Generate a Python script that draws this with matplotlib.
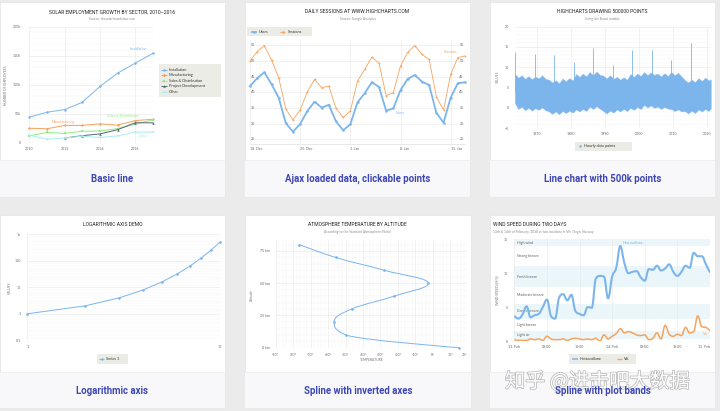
import matplotlib
matplotlib.use("Agg")
import matplotlib.pyplot as plt
import matplotlib.dates as mdates
import matplotlib.patheffects as pe
import matplotlib.transforms as mtrans
from matplotlib.patches import Rectangle, PathPatch
from matplotlib.path import Path
from matplotlib.ticker import FixedLocator, NullFormatter
from matplotlib import font_manager
import numpy as np

W, H = 720, 411
available = {f.name for f in font_manager.fontManager.ttflist}
if "Liberation Sans Narrow" in available:
    TITLE_FONT, TITLE_SIZE = "Liberation Sans Narrow", 4.2
else:
    TITLE_FONT, TITLE_SIZE = "Roboto", 3.6

plt.rcParams["font.family"] = ["Lato", "DejaVu Sans"]
plt.rcParams["font.size"] = 2.6

# ---------- data: basic line ----------
solar_years = [2010, 2011, 2012, 2013, 2014, 2015, 2016, 2017]
installation = [43934, 52503, 57177, 69658, 97031, 119931, 137133, 154175]
manufacturing = [24916, 24064, 29742, 29851, 32490, 30282, 38121, 40434]
sales_distribution = [11744, 17722, 16005, 19771, 20185, 24377, 32147, 39387]
project_development = [np.nan, np.nan, 7988, 12169, 15112, 22452, 34400, 34227]
other = [12908, 5948, 8105, 11248, 8989, 11816, 18274, 18111]

# ---------- data: daily sessions ----------
session_days = np.arange(np.datetime64("2017-12-18"), np.datetime64("2018-01-18"))
users = [42.0, 44.5, 46.4, 42.6, 38.3, 30.1, 27.4, 29.9, 34.0, 37.0, 35.1, 36.0, 30.7,
         27.9, 29.8, 36.8, 39.7, 43.2, 41.7, 34.1, 34.9, 40.7, 44.3, 45.5, 43.4, 42.3,
         33.5, 30.3, 38.3, 42.9, 43.2]
sessions = [50.0, 53.0, 54.9, 50.3, 44.7, 34.6, 31.2, 34.4, 40.2, 44.1, 41.5, 42.0, 34.9,
            32.0, 34.0, 43.6, 47.3, 51.2, 49.3, 38.9, 39.9, 48.4, 52.8, 54.9, 52.1, 50.5,
            38.6, 34.4, 45.7, 51.1, 51.6]

# ---------- data: 500k points (read envelope of the dense band + spikes) ----------
boost_years = list(np.arange(1963.5, 2021.0, 1.0)) + [2021.1]
boost_upper = [8.3, 7.4, 8.0, 7.1, 7.8, 7.0, 7.7, 7.2, 8.0, 7.1,
               6.9, 6.2, 6.8, 6.0, 7.2, 6.5, 7.3, 6.7, 8.3, 7.6,
               8.4, 7.7, 8.8, 8.0, 8.9, 8.1, 7.9, 7.2, 8.0, 7.1,
               7.6, 6.9, 7.5, 6.9, 8.3, 7.6, 8.4, 7.8, 8.8, 8.0,
               8.7, 8.1, 8.4, 7.7, 8.5, 7.8, 8.8, 8.0, 8.6, 7.7,
               6.8, 6.2, 6.9, 6.3, 7.3, 6.6, 7.4, 6.7, 7.0]
boost_lower = [1.2, -0.3, 0.3, -0.6, 0.0, -0.7, -0.1, -0.5, 0.1, -0.6,
               -0.9, -1.5, -0.9, -1.6, -0.8, -1.3, -0.7, -1.2, -0.4, -0.9,
               -0.3, -0.8, 0.3, -0.3, 0.4, -0.2, -0.8, -1.4, -0.7, -1.2,
               -0.4, -0.9, -0.3, -0.8, 0.0, -0.5, 0.2, -0.3, 0.7, 0.1,
               0.6, 0.0, 0.3, -0.3, 0.2, -0.2, -0.3, -0.8, -0.4, -0.9,
               -0.8, -1.4, -0.7, -1.3, -0.4, -0.9, -0.3, -0.8, -0.2]
spike_years = [1963.6, 1969.4, 1975.1, 1980.8, 1986.6, 1992.3, 1998.0, 2003.7, 2009.4, 2015.2]
spike_values = [13.7, 13.3, 12.9, 11.4, 14.8, 10.6, 14.3, 14.2, 11.9, 16.0]

# ---------- data: logarithmic axis ----------
log_x = [1, 2, 3, 4, 5, 6, 7, 8, 9, 10]
log_y = [1, 2, 4, 8, 16, 32, 64, 128, 256, 512]

# ---------- data: atmosphere ----------
altitude_km = [0, 10, 20, 30, 40, 50, 60, 70, 80]
temperature_c = [15, -50, -56.5, -46.5, -22.1, -2.5, -27.7, -55.7, -76.5]

# ---------- data: wind speed ----------
wind_times = np.datetime64("2018-02-13T00:00") + np.arange(49) * np.timedelta64(1, "h")
hestavollane = [3.7, 3.3, 3.9, 5.1, 3.5, 3.8, 4.0, 5.0, 6.1, 3.7, 3.3, 6.4, 6.9, 6.0, 6.8,
                4.4, 4.0, 3.8, 5.0, 4.9, 9.2, 9.6, 9.5, 6.3, 9.5, 10.8, 14.0, 11.5, 10.0,
                10.2, 10.3, 9.4, 8.9, 10.6, 10.5, 11.1, 10.4, 10.7, 11.3, 10.2, 9.6, 10.2,
                11.1, 10.8, 13.0, 12.5, 12.5, 11.3, 10.1]
vik = [0.2, 0.1, 0.1, 0.1, 0.3, 0.2, 0.3, 0.1, 0.7, 0.3, 0.2, 0.2, 0.3, 0.1, 0.3, 0.4, 0.3,
       0.2, 0.3, 0.2, 0.4, 0.0, 0.9, 0.3, 0.7, 1.1, 1.8, 1.2, 1.4, 1.2, 0.9, 0.8, 0.9, 0.2,
       0.4, 1.2, 0.3, 2.3, 1.0, 0.7, 1.0, 0.8, 2.0, 1.2, 1.4, 3.7, 2.1, 2.0, 1.5]
band_names = ["Light air", "Light breeze", "Gentle breeze", "Moderate breeze",
              "Fresh breeze", "Strong breeze", "High wind"]
band_edges = [0.3, 1.5, 3.3, 5.5, 8, 11, 14, 15]

captions = ["Basic line", "Ajax loaded data, clickable points", "Line chart with 500k points",
            "Logarithmic axis", "Spline with inverted axes", "Spline with plot bands"]

BLUE, ORANGE, GREEN, SLATE, CYAN = "#7cb5ec", "#f7a35c", "#90ee7e", "#56637a", "#aaeeee"
GRID, MINOR, LABEL = "#e6e6e6", "#f3f3f3", "#666666"


def spline_path(xs, ys, smoothing=1.5):
    # bezier control points the way Highcharts builds a spline
    n = len(xs)
    verts, codes = [(xs[0], ys[0])], [Path.MOVETO]
    prev_right = (xs[0], ys[0])
    d = smoothing + 1
    for i in range(1, n):
        x, y = xs[i], ys[i]
        if i < n - 1:
            lx, ly, nx, ny = xs[i - 1], ys[i - 1], xs[i + 1], ys[i + 1]
            lcx, lcy = (smoothing * x + lx) / d, (smoothing * y + ly) / d
            rcx, rcy = (smoothing * x + nx) / d, (smoothing * y + ny) / d
            if rcx != lcx:
                corr = (rcy - lcy) * (rcx - x) / (rcx - lcx) + y - rcy
                lcy += corr
                rcy += corr
            if lcy > ly and lcy > y:
                lcy = max(ly, y); rcy = 2 * y - lcy
            elif lcy < ly and lcy < y:
                lcy = min(ly, y); rcy = 2 * y - lcy
            if rcy > ny and rcy > y:
                rcy = max(ny, y); lcy = 2 * y - rcy
            elif rcy < ny and rcy < y:
                rcy = min(ny, y); lcy = 2 * y - rcy
            left, right = (lcx, lcy), (rcx, rcy)
        else:
            left = right = (x, y)
        verts += [prev_right, left, (x, y)]
        codes += [Path.CURVE4] * 3
        prev_right = right
    return np.array(verts), codes


fig = plt.figure(figsize=(W / 100, H / 100), dpi=100)
fig.patch.set_facecolor("#ebebeb")
bg = fig.add_axes([0, 0, 1, 1])
bg.set_xlim(0, W)
bg.set_ylim(H, 0)
bg.axis("off")
bg.set_zorder(-5)

cards = [(0, 2, 225, 197, 160), (245, 2, 470, 197, 160), (490, 2, 715, 197, 160),
         (0, 215, 225, 408, 372), (245, 215, 471, 408, 372), (490, 215, 715, 408, 372)]
for (x0, y0, x1, y1, yc), cap in zip(cards, captions):
    bg.add_patch(Rectangle((x0, y0), x1 - x0, y1 - y0, fc="white", ec="#e0e0e0", lw=0.4))
    bg.add_patch(Rectangle((x0, yc), x1 - x0, y1 - yc, fc="#f8f8fa", ec="none"))
    bg.plot([x0, x1], [yc, yc], color="#ececec", lw=0.5)
    bg.text((x0 + x1) / 2, (yc + y1) / 2 + 0.5, cap, ha="center", va="center",
            fontsize=6.9, fontweight="bold", color="#3e47b3", family=["Roboto", "DejaVu Sans"],
            zorder=6)

bg.text(505, 382, "知乎 @进击吧大数据", ha="left", va="center", fontsize=14.5, color="white",
        family=["Noto Sans CJK SC", "DejaVu Sans"], zorder=5,
        path_effects=[pe.withStroke(linewidth=1.0, foreground="#b5b5b5")])


def title(x, y, text, ha="center"):
    bg.text(x, y, text, ha=ha, va="center", fontsize=TITLE_SIZE, family=[TITLE_FONT, "DejaVu Sans"],
            color="#222222")


def subtitle(x, y, text, ha="center"):
    bg.text(x, y, text, ha=ha, va="center", fontsize=2.3, color="#8a8a8a")


def ytitle(x, y, text):
    bg.text(x, y, text, ha="center", va="center", rotation=90, fontsize=2.4, color="#777777")


def legend_box(x0, y0, x1, y1):
    bg.add_patch(Rectangle((x0, y0), x1 - x0, y1 - y0, fc="#ecece6", ec="none"))


def legend_item(x, y, color, label, marker=None, lw=0.7):
    bg.plot([x - 2.6, x + 2.6], [y, y], color=color, lw=lw, solid_capstyle="butt")
    if marker:
        bg.plot([x], [y], marker=marker, color=color, ms=1.8, mew=0)
    bg.text(x + 5, y, label, ha="left", va="center", fontsize=2.8, color="#333333")


def chart_axes(x0, y0, x1, y1):
    ax = fig.add_axes([x0 / W, 1 - y1 / H, (x1 - x0) / W, (y1 - y0) / H])
    ax.set_facecolor("none")
    for s in ax.spines.values():
        s.set_visible(False)
    ax.tick_params(which="both", length=0, labelsize=2.6, labelcolor=LABEL)
    ax.set_axisbelow(True)
    return ax


# ===== 1. basic line =====
title(112.5, 11.7, "SOLAR EMPLOYMENT GROWTH BY SECTOR, 2010–2016")
subtitle(112.5, 19.3, "Source: thesolarfoundation.com")
ytitle(6.3, 85, "NUMBER OF EMPLOYEES")
ax1 = chart_axes(29.3, 26.7, 152.9, 142.7)
ax1.set_xlim(2010, 2017)
ax1.set_ylim(0, 200000)
ax1.set_xticks([2010, 2012, 2014, 2016])
ax1.set_yticks([0, 50000, 100000, 150000, 200000], ["0", "50k", "100k", "150k", "200k"])
ax1.yaxis.set_minor_locator(FixedLocator(np.arange(0, 200001, 10000)))
ax1.grid(True, which="major", color=GRID, lw=0.4)
ax1.grid(True, which="minor", axis="y", color=MINOR, lw=0.3)
ax1.tick_params(axis="y", pad=6)
ax1.tick_params(axis="x", pad=3)
series1 = [("Installation", installation, BLUE, "o"), ("Manufacturing", manufacturing, ORANGE, "D"),
           ("Sales & Distribution", sales_distribution, GREEN, "s"),
           ("Project Development", project_development, SLATE, "^"), ("Other", other, CYAN, "v")]
for name, vals, col, mk in series1:
    ax1.plot(solar_years, vals, color=col, lw=0.7, marker=mk, ms=1.8 if mk != "D" else 1.5,
             mew=0, clip_on=False)
ax1.text(2016.15, 161500, "Installation", color=BLUE, fontsize=2.6, ha="center", va="center")
ax1.text(2011.9, 35700, "Manufacturing", color=ORANGE, fontsize=2.6, ha="center", va="center")
ax1.text(2015.3, 46000, "Sales & Distribution", color=GREEN, fontsize=2.6, ha="center", va="center")
ax1.text(2016.5, 11600, "Other", color=CYAN, fontsize=2.6, ha="center", va="center")
legend_box(159, 64, 221, 97)
for i, (name, vals, col, mk) in enumerate(series1):
    legend_item(164, 69.7 + i * 5.6, col, name, marker=mk)

# ===== 2. ajax data =====
title(357.5, 11.7, "DAILY SESSIONS AT WWW.HIGHCHARTS.COM")
subtitle(357.5, 19.3, "Source: Google Analytics")
legend_box(247.3, 27.3, 311.7, 36)
legend_item(254, 31.7, BLUE, "Users", marker="o", lw=1.2)
legend_item(282.5, 31.7, ORANGE, "Sessions", marker="o", lw=0.6)
ax2 = chart_axes(250, 40, 465, 144)
ax2.set_xlim(session_days[0], session_days[-1])
ax2.set_ylim(23.5, 56.7)
week_ticks = session_days[::7]
ax2.set_xticks(week_ticks, ["18. Dec", "25. Dec", "1. Jan", "8. Jan", "15. Jan"])
for lab in ax2.get_xticklabels():
    lab.set_ha("left")
ax2.tick_params(axis="x", pad=2)
ax2.set_yticks([25, 30, 35, 40, 45, 50, 55], [""] * 7)
ax2.grid(True, color=GRID, lw=0.4)
ax2.spines["bottom"].set_visible(True)
ax2.spines["bottom"].set_color("#d8d8d8")
ax2.spines["bottom"].set_linewidth(0.4)
yblend = mtrans.blended_transform_factory(ax2.transAxes, ax2.transData)
for v in [25, 30, 35, 40, 45, 50, 55]:
    ax2.text(0.006, v, str(v), transform=yblend, ha="left", va="center", fontsize=2.6, color=LABEL)
    ax2.text(0.994, v, str(v), transform=yblend, ha="right", va="center", fontsize=2.6, color=LABEL)
ax2.plot(session_days, sessions, color=ORANGE, lw=0.6, marker="o", ms=1.3, mew=0, clip_on=False)
ax2.plot(session_days, users, color=BLUE, lw=1.3, marker="o", ms=1.8, mew=0, clip_on=False)
ax2.text(session_days[0] + np.timedelta64(28, "D"), 53.0, "Sessions", color=ORANGE, fontsize=2.6,
         ha="center", va="center")
ax2.text(session_days[0] + np.timedelta64(21, "D"), 33.5, "Users", color=BLUE, fontsize=2.6,
         ha="center", va="center")

# ===== 3. 500k points =====
title(602.5, 11.7, "HIGHCHARTS DRAWING 500000 POINTS")
subtitle(602.5, 19.3, "Using the Boost module")
ytitle(498.3, 76.7, "VALUES")
ax3 = chart_axes(514.9, 26.7, 710.7, 128)
ax3.set_xlim(1963.5, 2021.1)
ax3.set_ylim(-5, 20)
ax3.set_xticks([1970, 1980, 1990, 2000, 2010, 2020])
ax3.set_yticks([-5, 0, 5, 10, 15, 20])
ax3.yaxis.set_minor_locator(FixedLocator(np.arange(-5, 21, 1)))
ax3.grid(True, which="major", color=GRID, lw=0.4)
ax3.grid(True, which="minor", axis="y", color=MINOR, lw=0.3)
ax3.tick_params(axis="y", pad=4.5)
ax3.tick_params(axis="x", pad=2.7)
ax3.fill_between(boost_years, boost_lower, boost_upper, color=BLUE, lw=0.3, ec=BLUE)
ax3.vlines(spike_years, 4.0, spike_values, color=BLUE, lw=0.6)
legend_box(575, 141.7, 631.7, 150.7)
bg.plot([580], [146.2], marker="o", color=BLUE, ms=1.8, mew=0)
bg.text(584.5, 146.2, "Hourly data points", ha="left", va="center", fontsize=2.8, color="#333333")

# ===== 4. logarithmic axis =====
title(112.5, 224.3, "LOGARITHMIC AXIS DEMO")
ytitle(10, 288, "VALUES")
ax4 = chart_axes(27.3, 234.3, 220, 340.3)
ax4.set_xscale("log")
ax4.set_yscale("log")
ax4.set_xlim(1, 10)
ax4.set_ylim(0.1, 1000)
ax4.set_xticks([1, 10], ["1", "10"])
ax4.set_yticks([0.1, 1, 10, 100, 1000], ["0.1", "1", "10", "100", "1k"])
ax4.xaxis.set_minor_locator(FixedLocator([]))
ax4.yaxis.set_minor_locator(FixedLocator(10 ** np.arange(-1, 3.01, 0.1)))
ax4.xaxis.set_minor_formatter(NullFormatter())
ax4.yaxis.set_minor_formatter(NullFormatter())
ax4.grid(True, which="major", color=GRID, lw=0.4)
ax4.grid(True, which="minor", axis="y", color=MINOR, lw=0.3)
ax4.tick_params(axis="y", pad=4.7)
ax4.tick_params(axis="x", pad=3.5)
ax4.plot(log_x, log_y, color=BLUE, lw=0.7, marker="o", ms=1.9, mew=0, clip_on=False)
legend_box(97, 354, 128.3, 363.7)
legend_item(101.5, 358.9, BLUE, "Series 1", marker="o")

# ===== 5. spline with inverted axes =====
title(357.7, 224.3, "ATMOSPHERE TEMPERATURE BY ALTITUDE")
subtitle(357.7, 232, "According to the Standard Atmosphere Model")
ytitle(252, 295, "Altitude")
bg.text(371.7, 360.3, "TEMPERATURE", ha="center", va="center", fontsize=2.4, color="#777777")
ax5 = chart_axes(275.7, 240, 467.7, 347.7)
ax5.set_xlim(-90, 20)
ax5.set_ylim(0, 83.5)
temp_ticks = list(range(-90, 21, 10))
ax5.set_xticks(temp_ticks, [f"{t}°" for t in temp_ticks])
ax5.get_xticklabels()[-1].set_ha("right")
ax5.set_yticks([0, 25, 50, 75], ["0 km", "25 km", "50 km", "75 km"])
ax5.xaxis.set_minor_locator(FixedLocator(np.arange(-90, 21, 2)))
ax5.yaxis.set_minor_locator(FixedLocator(np.arange(0, 84, 5)))
ax5.grid(True, which="major", color=GRID, lw=0.4)
ax5.grid(True, which="minor", color=MINOR, lw=0.3)
ax5.tick_params(axis="y", pad=4.1)
ax5.tick_params(axis="x", pad=3.6)
verts, codes = spline_path(altitude_km, temperature_c)
ax5.add_patch(PathPatch(Path(verts[:, ::-1], codes), fc="none", ec=BLUE, lw=0.7))
ax5.plot(temperature_c, altitude_km, ls="none", marker="o", color=BLUE, ms=1.9, mew=0, clip_on=False)

# ===== 6. spline with plot bands =====
title(493, 224.3, "WIND SPEED DURING TWO DAYS", ha="left")
subtitle(493, 232, "13th & 14th of February, 2018 at two locations in Vik i Sogn, Norway", ha="left")
ytitle(497, 290, "WIND SPEED (M/S)")
ax6 = chart_axes(514.3, 239.3, 710, 341)
t_num = mdates.date2num(wind_times)
ax6.set_xlim(t_num[0], t_num[-1])
ax6.set_ylim(0, 15)
ax6.set_xticks(t_num[::8], ["13. Feb", "08:00", "16:00", "14. Feb", "08:00", "16:00", "15. Feb"])
ax6.get_xticklabels()[-1].set_ha("right")
ax6.set_yticks([0, 5, 10, 15])
ax6.grid(True, axis="x", color=GRID, lw=0.4)
ax6.tick_params(axis="y", pad=4.3)
ax6.tick_params(axis="x", pad=3)
band_tf = mtrans.blended_transform_factory(ax6.transAxes, ax6.transData)
for i, name in enumerate(band_names):
    lo, hi = band_edges[i], band_edges[i + 1]
    if i % 2 == 0:
        ax6.axhspan(lo, hi, color=(68 / 255, 170 / 255, 213 / 255, 0.1), lw=0, zorder=0.5)
    ax6.text(0.012, (lo + hi) / 2, name, transform=band_tf,
             ha="left", va="center", fontsize=2.5, color="#606060")
for vals, col, lw in [(hestavollane, BLUE, 1.5), (vik, ORANGE, 1.1)]:
    verts, codes = spline_path(list(t_num), vals)
    ax6.add_patch(PathPatch(Path(verts, codes), fc="none", ec=col, lw=lw, zorder=3))
ax6.text(t_num[29], 14.45, "Hestavollane", color=BLUE, fontsize=2.6, ha="center", va="center")
ax6.text(t_num[47], 1.0, "Vik", color=ORANGE, fontsize=2.6, ha="center", va="center")
legend_box(569.3, 354, 636, 363.7)
legend_item(575, 358.9, BLUE, "Hestavollane", lw=1.1)
legend_item(619.2, 358.9, ORANGE, "Vik", lw=1.0)

fig.savefig("out.png", dpi=100, facecolor=fig.get_facecolor())
